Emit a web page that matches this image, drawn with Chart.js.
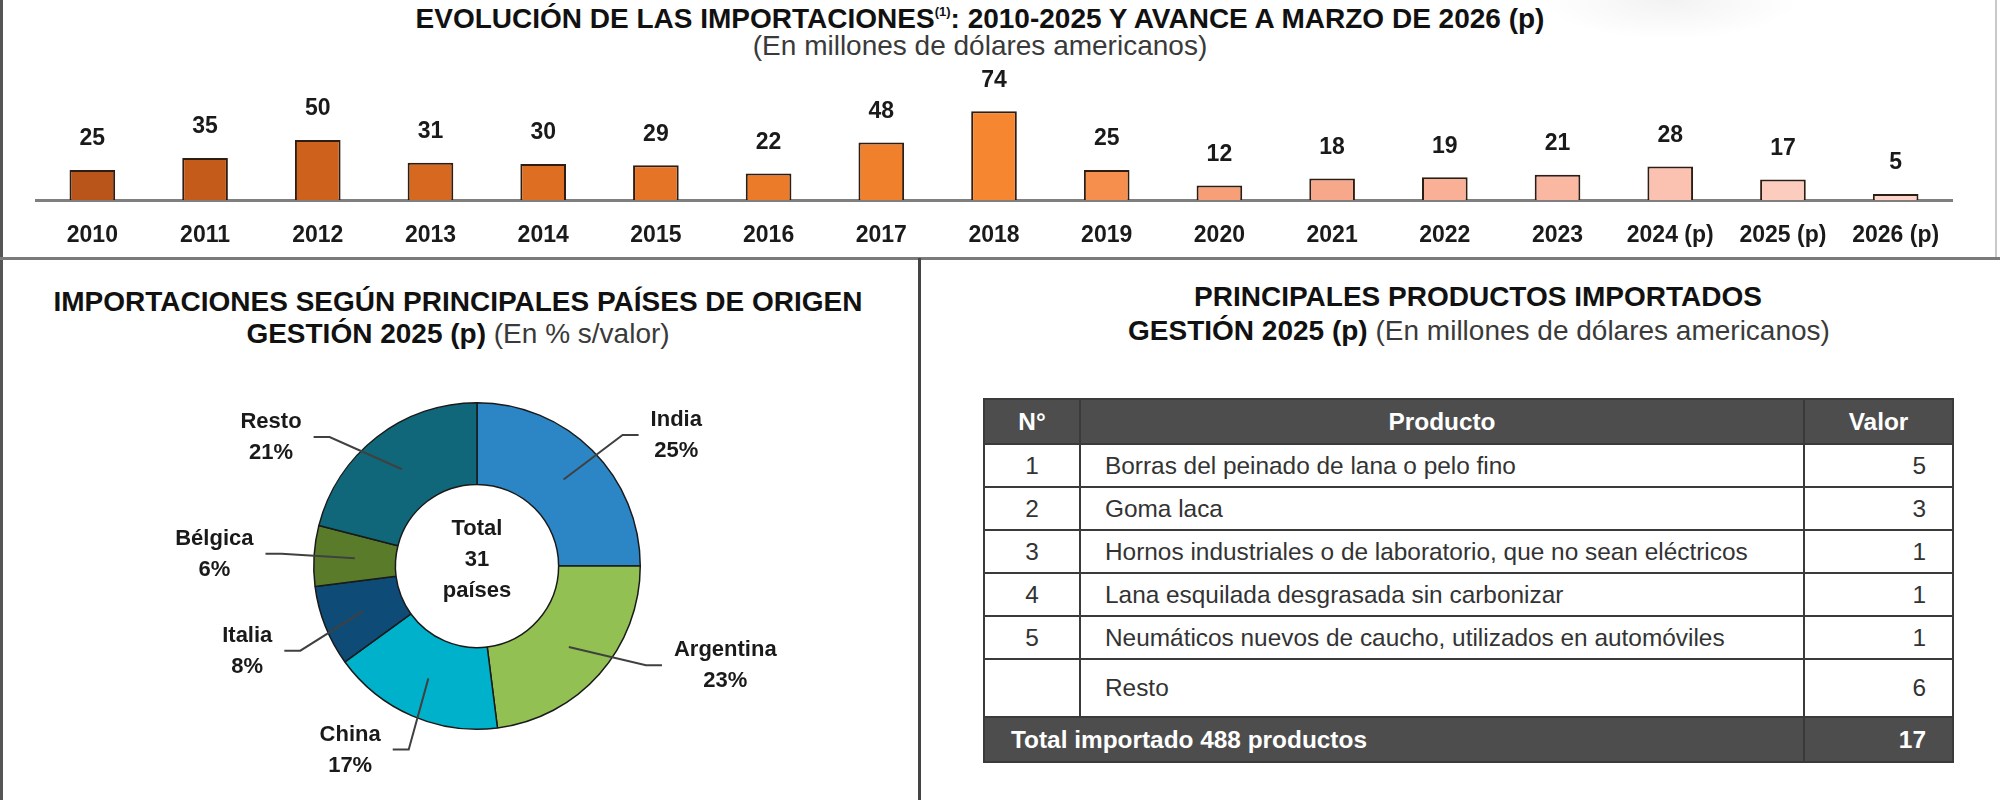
<!DOCTYPE html>
<html>
<head>
<meta charset="utf-8">
<script src="https://cdn.jsdelivr.net/npm/chart.js@4.4.0/dist/chart.umd.min.js"></script>
<style>
  html, body { margin: 0; padding: 0; background: #fff; }
  #page { position: relative; width: 2000px; height: 800px; overflow: hidden; font-family: "Liberation Sans", Arial, sans-serif; color: #111; }
  .rule { position: absolute; }
  .ttl { position: absolute; white-space: nowrap; transform: translate(-50%, -50%); font-size: 28px; line-height: 32px; }
  .ttl b { font-weight: bold; color: #111; }
  .ttl span { font-weight: normal; color: #3a3a3a; }
  .ttl sup { font-size: 13px; vertical-align: 12px; }
  canvas { position: absolute; }
  #prodTable { position: absolute; left: 983px; top: 398px; width: 969px; border-collapse: collapse; table-layout: fixed; font-size: 24.4px; color: #333; }
  #prodTable th, #prodTable td { border: 2px solid #3a3a3a; padding: 0; white-space: nowrap; }
  #prodTable th { background: #4d4d4d; color: #fff; height: 43px; font-weight: bold; text-align: center; }
  #prodTable td.num { text-align: center; }
  #prodTable td.prod { padding-left: 24px; }
  #prodTable td.val { text-align: right; padding-right: 26px; }
  #prodTable tr.item td { height: 41px; }
  #prodTable tr.rest td { height: 56px; }
  #prodTable tr.total td { background: #4d4d4d; color: #fff; font-weight: bold; height: 43px; }
  #prodTable tr.total td.prod { padding-left: 26px; }
</style>
</head>
<body>
<div id="page">
  <div class="rule" style="left:1540px;top:-40px;width:260px;height:80px;background:radial-gradient(ellipse at center, rgba(0,0,0,0.05), rgba(0,0,0,0) 70%);"></div>
  <div class="rule" style="left:0;top:0;width:3px;height:800px;background:#555;"></div>
  <div class="rule" style="left:1995px;top:0;width:2px;height:258px;background:#c8c8c8;"></div>
  <div class="rule" style="left:0;top:257px;width:2000px;height:3px;background:#7a7a7a;"></div>
  <div class="rule" style="left:918px;top:258px;width:3px;height:542px;background:#444;"></div>

  <div class="ttl" style="left:980px;top:15px;"><b>EVOLUCIÓN DE LAS IMPORTACIONES<sup>(1)</sup>: 2010-2025 Y AVANCE A MARZO DE 2026 (p)</b></div>
  <div class="ttl" style="left:980px;top:46px;"><span>(En millones de dólares americanos)</span></div>

  <div class="ttl" style="left:458px;top:302px;"><b>IMPORTACIONES SEGÚN PRINCIPALES PAÍSES DE ORIGEN</b></div>
  <div class="ttl" style="left:458px;top:334px;"><b>GESTIÓN 2025 (p)</b> <span>(En % s/valor)</span></div>

  <div class="ttl" style="left:1478px;top:297px;"><b>PRINCIPALES PRODUCTOS IMPORTADOS</b></div>
  <div class="ttl" style="left:1479px;top:331px;"><b>GESTIÓN 2025 (p)</b> <span>(En millones de dólares americanos)</span></div>

  <canvas id="barChart" width="2000" height="205" style="left:0;top:55px;"></canvas>
  <canvas id="donutChart" width="918" height="440" style="left:0;top:360px;"></canvas>
  <table id="prodTable"></table>
</div>
<script>
// evolucion anual
const years = ['2010', '2011', '2012', '2013', '2014', '2015', '2016', '2017', '2018',
  '2019', '2020', '2021', '2022', '2023', '2024 (p)', '2025 (p)', '2026 (p)'];
const importValues = [25, 35, 50, 31, 30, 29, 22, 48, 74, 25, 12, 18, 19, 21, 28, 17, 5];

// paises de origen (%)
const countries = ['India', 'Argentina', 'China', 'Italia', 'Bélgica', 'Resto'];
const countryShares = [25, 23, 17, 8, 6, 21];
const totalCountries = 31;

// productos
const productNames = [
  'Borras del peinado de lana o pelo fino',
  'Goma laca',
  'Hornos industriales o de laboratorio, que no sean eléctricos',
  'Lana esquilada desgrasada sin carbonizar',
  'Neumáticos nuevos de caucho, utilizados en automóviles'
];
const productValues = [5, 3, 1, 1, 1];
const restLabel = 'Resto';
const restValue = 6;
const totalProducts = 488;
const totalValue = 17;

const barColors = ['#B9541B', '#C45B1B', '#CE621D', '#D7681F', '#DE6E22', '#E57426', '#EB7A29', '#F1802D', '#F6862F',
  '#F68F4E', '#F79F76', '#F8A88A', '#F9B097', '#FAB7A2', '#FBC2B1', '#FCCCBF', '#FCD4CA'];
const countryColors = ['#2C86C6', '#92C052', '#00B1CB', '#0E4C77', '#5A7C2A', '#0F6779'];

const SANS = '"Liberation Sans", Arial, sans-serif';

const barValueLabels = {
  id: 'barValueLabels',
  afterDatasetsDraw(chart) {
    const ctx = chart.ctx;
    const meta = chart.getDatasetMeta(0);
    const vals = chart.data.datasets[0].data;
    ctx.save();
    ctx.font = 'bold 23px ' + SANS;
    ctx.fillStyle = '#1a1a1a';
    ctx.textAlign = 'center';
    ctx.textBaseline = 'middle';
    meta.data.forEach(function (bar, i) {
      ctx.fillText(String(vals[i]), bar.x, bar.y - 31);
    });
    ctx.restore();
  }
};

new Chart(document.getElementById('barChart'), {
  type: 'bar',
  data: {
    labels: years,
    datasets: [{
      data: importValues,
      backgroundColor: barColors,
      borderColor: '#2e1d12',
      borderWidth: 2,
      barPercentage: 0.405,
      categoryPercentage: 1
    }]
  },
  options: {
    responsive: false,
    animation: false,
    devicePixelRatio: 1,
    layout: { padding: { left: 36, right: 48, top: 25, bottom: 0 } },
    plugins: { legend: { display: false }, tooltip: { enabled: false } },
    scales: {
      x: {
        grid: { display: false, drawTicks: false },
        border: { display: true, color: '#7f7f7f', width: 3 },
        ticks: {
          padding: 22, color: '#1a1a1a', maxRotation: 0, minRotation: 0, autoSkip: false,
          font: { family: SANS, size: 23, weight: 'bold' }
        },
        afterFit: function (scale) { scale.height = 60; }
      },
      y: { display: false, min: 0, max: 100 }
    }
  },
  plugins: [barValueLabels]
});

const donutLabels = {
  id: 'donutLabels',
  afterDatasetsDraw(chart, args, opts) {
    const ctx = chart.ctx;
    const meta = chart.getDatasetMeta(0);
    const vals = chart.data.datasets[0].data;
    ctx.save();
    ctx.font = 'bold 22px ' + SANS;
    ctx.fillStyle = '#1a1a1a';
    ctx.strokeStyle = '#404040';
    ctx.lineWidth = 2;
    ctx.textBaseline = 'middle';
    ctx.textAlign = 'center';
    meta.data.forEach(function (arc, i) {
      const mid = (arc.startAngle + arc.endAngle) / 2;
      const rMid = (arc.innerRadius + arc.outerRadius) / 2;
      const sx = arc.x + Math.cos(mid) * rMid;
      const sy = arc.y + Math.sin(mid) * rMid;
      const a = mid + (opts.shift[i] || 0) * Math.PI / 180;
      const rE = arc.outerRadius * 1.2;
      const ex = arc.x + Math.cos(a) * rE;
      const ey = arc.y + Math.sin(a) * rE;
      const side = Math.cos(a) >= 0 ? 1 : -1;
      const hx = ex + side * 16;
      ctx.beginPath();
      ctx.moveTo(sx, sy);
      ctx.lineTo(ex, ey);
      ctx.lineTo(hx, ey);
      ctx.stroke();
      const l1 = chart.data.labels[i];
      const l2 = vals[i] + '%';
      const w = Math.max(ctx.measureText(l1).width, ctx.measureText(l2).width);
      const tx = hx + side * (12 + w / 2);
      ctx.fillText(l1, tx, ey - 15);
      ctx.fillText(l2, tx, ey + 16);
    });
    // texto central
    const c = meta.data[0];
    ctx.fillText('Total', c.x, c.y - 37);
    ctx.fillText(String(totalCountries), c.x, c.y - 6);
    ctx.fillText('países', c.x, c.y + 25);
    ctx.restore();
  }
};

new Chart(document.getElementById('donutChart'), {
  type: 'doughnut',
  data: {
    labels: countries,
    datasets: [{
      data: countryShares,
      backgroundColor: countryColors,
      borderColor: '#1a1a1a',
      borderWidth: 1.5
    }]
  },
  options: {
    responsive: false,
    animation: false,
    devicePixelRatio: 1,
    cutout: '50%',
    layout: { padding: { left: 313, right: 277, top: 42, bottom: 70 } },
    plugins: {
      legend: { display: false },
      tooltip: { enabled: false },
      donutLabels: { shift: [3, -11, -3, -4, 0, -11] }
    }
  },
  plugins: [donutLabels]
});

// tabla de productos
(function buildTable() {
  const t = document.getElementById('prodTable');
  let html = '<colgroup><col style="width:96px"><col style="width:724px"><col style="width:149px"></colgroup>';
  html += '<tr><th>N°</th><th>Producto</th><th>Valor</th></tr>';
  productNames.forEach(function (name, i) {
    html += '<tr class="item"><td class="num">' + (i + 1) + '</td><td class="prod">' + name +
      '</td><td class="val">' + productValues[i] + '</td></tr>';
  });
  html += '<tr class="rest"><td class="num"></td><td class="prod">' + restLabel + '</td><td class="val">' + restValue + '</td></tr>';
  html += '<tr class="total"><td class="prod" colspan="2">Total importado ' + totalProducts +
    ' productos</td><td class="val">' + totalValue + '</td></tr>';
  t.innerHTML = html;
})();
</script>
</body>
</html>
